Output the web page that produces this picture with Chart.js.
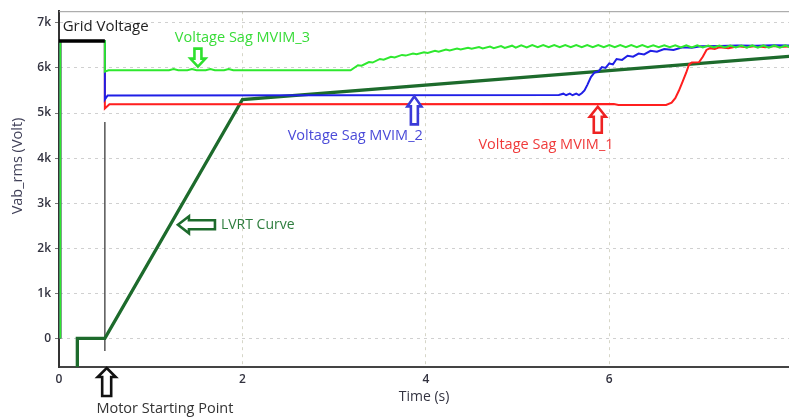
<!DOCTYPE html>
<html>
<head>
<meta charset="utf-8">
<script src="https://cdn.jsdelivr.net/npm/chart.js@4.4.0/dist/chart.umd.min.js"></script>
<style>
  html, body { margin: 0; padding: 0; background: #fff; }
  #wrap { width: 789px; height: 419px; position: relative; }
</style>
</head>
<body>
<div id="wrap"><canvas id="vChart"></canvas></div>
<script>
// ticks
const xTicks = [0, 2, 4, 6];
const yTicks = [0, 1000, 2000, 3000, 4000, 5000, 6000, 7000];

// grid voltage before motor start (s / V)
const gridT = [0, 0.5];
const gridV = [6600, 6600];

// Voltage Sag MVIM_3 (green)
const sag3T = [0.015, 0.015, 0.5, 0.5, 0.54, 1.2, 1.25, 1.3, 1.4, 1.45, 1.5, 1.6, 1.65, 1.7, 1.8, 1.85, 1.9, 2.0, 3.18,
  3.26, 3.3, 3.38, 3.42, 3.5, 3.54, 3.62, 3.66, 3.74, 3.78, 3.86, 3.9, 3.98, 4.02, 4.1, 4.14, 4.22, 4.26,
  4.34, 4.38, 4.46, 4.5, 4.58, 4.62, 4.7, 4.74, 4.82, 4.86, 4.94, 4.98,
  5.04, 5.10, 5.16, 5.22, 5.28, 5.34, 5.40, 5.46, 5.52, 5.58, 5.64, 5.70, 5.76, 5.82, 5.88, 5.94,
  6.00, 6.06, 6.12, 6.18, 6.24, 6.30, 6.36, 6.42, 6.48, 6.54, 6.60, 6.66, 6.72, 6.78, 6.84, 6.90,
  6.96, 7.02, 7.08, 7.14, 7.20, 7.26, 7.32, 7.38, 7.44, 7.50, 7.56, 7.62, 7.68, 7.74, 7.80, 7.86, 7.92, 7.98];
const sag3V = [0, 6600, 6600, 5920, 5950, 5950, 5975, 5950, 5950, 5975, 5950, 5950, 5975, 5950, 5950, 5975, 5950, 5950, 5950,
  6060, 6050, 6130, 6120, 6200, 6185, 6250, 6235, 6290, 6275, 6320, 6305, 6350, 6335, 6380, 6360, 6410, 6390,
  6430, 6410, 6450, 6425, 6465, 6435, 6475, 6440, 6485, 6445, 6495, 6450,
  6505, 6455, 6510, 6460, 6510, 6460, 6510, 6460, 6510, 6460, 6510, 6460, 6510, 6460, 6510, 6460,
  6510, 6460, 6510, 6460, 6510, 6460, 6510, 6460, 6505, 6460, 6505, 6460, 6505, 6455, 6505, 6455,
  6505, 6455, 6500, 6455, 6500, 6455, 6500, 6455, 6500, 6450, 6500, 6450, 6500, 6450, 6500, 6450, 6500, 6450];

// Voltage Sag MVIM_2 (blue)
const sag2T = [0.015, 0.015, 0.5, 0.5, 0.53, 5.45, 5.5, 5.53, 5.57, 5.6, 5.64, 5.67, 5.7, 5.73, 5.76, 5.8, 5.84, 5.88,
  5.92, 5.96, 6.0, 6.04, 6.08, 6.14, 6.2, 6.26, 6.32, 6.38, 6.45, 6.52, 6.6, 6.7, 6.8, 6.9, 7.0, 7.2, 7.4, 7.6, 7.8, 7.98];
const sag2V = [0, 6600, 6600, 5300, 5390, 5400, 5430, 5395, 5430, 5395, 5430, 5400, 5440, 5500, 5620, 5800, 5900, 5920,
  6020, 6000, 6100, 6080, 6200, 6180, 6270, 6250, 6320, 6300, 6380, 6360, 6420, 6400, 6460, 6450, 6480, 6490, 6500, 6495, 6505, 6500];

// Voltage Sag MVIM_1 (red)
const sag1T = [0.015, 0.015, 0.5, 0.5, 0.55, 6.05, 6.1, 6.62, 6.68, 6.72, 6.76, 6.8, 6.84, 6.87, 6.9, 6.98, 7.02, 7.06,
  7.1, 7.15, 7.2, 7.3, 7.4, 7.5, 7.6, 7.7, 7.8, 7.9, 7.98];
const sag1V = [0, 6600, 6600, 5100, 5195, 5200, 5180, 5180, 5230, 5330, 5500, 5700, 5900, 6080, 6120, 6130, 6250, 6400,
  6440, 6420, 6460, 6440, 6480, 6460, 6490, 6460, 6490, 6470, 6480];

// LVRT curve (dark green)
const lvrtT = [0.2, 0.2, 0.5, 2.0, 7.98];
const lvrtV = [-700, 0, 0, 5300, 6260];

// motor starting marker line
const motorT = [0.5, 0.5];
const motorV = [4800, -280];

const pts = (t, v) => t.map((x, i) => ({ x: x, y: v[i] }));

function line(label, t, v, color, width) {
    return {
        label: label,
        data: pts(t, v),
        borderColor: color,
        borderWidth: width,
        pointRadius: 0,
        tension: 0,
        fill: false
    };
}

// hollow block arrow, tip at (x, y) pointing along (dx, dy)
function arrow(ctx, x, y, dx, dy, len, headW, headL, shaftW, color) {
    const px = -dy, py = dx;
    const local = [
        [0, 0], [headL, headW / 2], [headL, shaftW / 2], [len, shaftW / 2],
        [len, -shaftW / 2], [headL, -shaftW / 2], [headL, -headW / 2]
    ];
    ctx.save();
    ctx.beginPath();
    local.forEach((p, i) => {
        const X = x - dx * p[0] + px * p[1];
        const Y = y - dy * p[0] + py * p[1];
        if (i === 0) ctx.moveTo(X, Y); else ctx.lineTo(X, Y);
    });
    ctx.closePath();
    ctx.fillStyle = '#fff';
    ctx.fill();
    ctx.lineWidth = 2.6;
    ctx.lineJoin = 'miter';
    ctx.strokeStyle = color;
    ctx.stroke();
    ctx.restore();
}

const notesPlugin = {
    id: 'notes',
    beforeDatasetsDraw(chart) {
        const { ctx, chartArea } = chart;
        ctx.save();
        ctx.strokeStyle = '#9a9a9a';
        ctx.lineWidth = 1;
        ctx.beginPath();
        ctx.moveTo(chartArea.left, chartArea.top + 0.5);
        ctx.lineTo(chartArea.right, chartArea.top + 0.5);
        ctx.stroke();
        ctx.restore();
    },
    afterDatasetsDraw(chart) {
        const { ctx } = chart;
        const sx = chart.scales.x, sy = chart.scales.y;
        const X = v => sx.getPixelForValue(v);
        const Y = v => sy.getPixelForValue(v);

        arrow(ctx, X(1.515), Y(6030), 0, 1, 18, 15, 8, 7, '#2ee02e');
        arrow(ctx, X(3.875), Y(5370), 0, -1, 28, 14, 10, 7, '#3a3ad8');
        arrow(ctx, X(5.875), Y(5140), 0, -1, 26, 16, 10, 8, '#ee2222');
        arrow(ctx, X(1.297), Y(2520), -1, 0, 37, 17, 11, 9, '#1d6b2c');
        arrow(ctx, X(0.52), Y(-635) + 1, 0, -1, 28, 18, 9, 9, '#111');

        ctx.save();
        ctx.textBaseline = 'middle';
        ctx.font = '15px "Open Sans"';
        ctx.fillStyle = '#222';
        ctx.textAlign = 'left';
        ctx.fillText('Grid Voltage', X(0.04), Y(6910));

        ctx.font = '14.5px "Open Sans"';
        ctx.textAlign = 'center';
        ctx.fillStyle = '#38dc38';
        ctx.fillText('Voltage Sag MVIM_3', X(2.0), Y(6670));
        ctx.fillStyle = '#4a4ad8';
        ctx.fillText('Voltage Sag MVIM_2', X(3.23), Y(4490));
        ctx.fillStyle = '#f03a3a';
        ctx.fillText('Voltage Sag MVIM_1', X(5.31), Y(4290));
        ctx.fillStyle = '#2e7d3e';
        ctx.textAlign = 'left';
        ctx.font = '14px "Open Sans"';
        ctx.fillText('LVRT Curve', X(1.766), Y(2520));
        ctx.fillStyle = '#333';
        ctx.textAlign = 'center';
        ctx.font = '14.5px "Open Sans"';
        ctx.fillText('Motor Starting Point', X(1.155), Y(-1575));
        ctx.restore();
    },
    afterDraw(chart) {
        // y axis title, sits above the scale centre in the reference
        const ctx = chart.ctx;
        ctx.save();
        ctx.translate(18, 166);
        ctx.rotate(-Math.PI / 2);
        ctx.font = '14.5px "Open Sans"';
        ctx.fillStyle = '#404058';
        ctx.textAlign = 'center';
        ctx.textBaseline = 'middle';
        ctx.fillText('Vab_rms (Volt)', 0, 0);
        ctx.restore();
    }
};

const tickFont = { family: 'Open Sans', size: 12, weight: '600' };

new Chart(document.getElementById('vChart').getContext('2d'), {
    type: 'line',
    data: {
        datasets: [
            line('Grid Voltage', gridT, gridV, '#000', 3.5),
            line('Voltage Sag MVIM_3', sag3T, sag3V, '#2ee82e', 2),
            line('Voltage Sag MVIM_2', sag2T, sag2V, '#1f1fe6', 2),
            line('Voltage Sag MVIM_1', sag1T, sag1V, '#ff1f1f', 2),
            line('LVRT Curve', lvrtT, lvrtV, '#1d6b2c', 3.3),
            line('Motor Starting Point', motorT, motorV, '#555', 1.5)
        ]
    },
    options: {
        responsive: true,
        maintainAspectRatio: false,
        animation: false,
        layout: { padding: { top: 6, right: 0, bottom: 0, left: 0 } },
        plugins: { legend: { display: false }, tooltip: { enabled: false } },
        scales: {
            x: {
                type: 'linear',
                min: 0,
                max: 7.96,
                afterBuildTicks: s => { s.ticks = xTicks.map(v => ({ value: v })); },
                afterFit: s => { s.height = 52; },
                grid: {
                    color: c => (c.tick && c.tick.value === 0) ? 'rgba(0,0,0,0)' : '#d6d6c8',
                    lineWidth: 1,
                    drawTicks: false
                },
                border: { display: true, color: '#444', width: 2, dash: [3, 4] },
                ticks: { color: '#333340', font: tickFont, padding: 5, maxRotation: 0 },
                title: { display: true, text: 'Time (s)', color: '#333340',
                         font: { family: 'Open Sans', size: 14 }, padding: { top: 0, bottom: 14 } }
            },
            y: {
                type: 'linear',
                min: -635,
                max: 7260,
                afterBuildTicks: s => { s.ticks = yTicks.map(v => ({ value: v })); },
                afterFit: s => { s.width = 59; },
                grid: { color: '#d0d0d0', lineWidth: 1, drawTicks: true, tickLength: 4, tickColor: '#777' },
                border: { display: true, color: '#333', width: 2, dash: [3, 4] },
                ticks: {
                    color: '#333340', font: tickFont, padding: 4,
                    callback: v => v === 0 ? '0' : (v / 1000) + 'k'
                },
                title: { display: false }
            }
        }
    },
    plugins: [notesPlugin]
});
</script>
</body>
</html>
